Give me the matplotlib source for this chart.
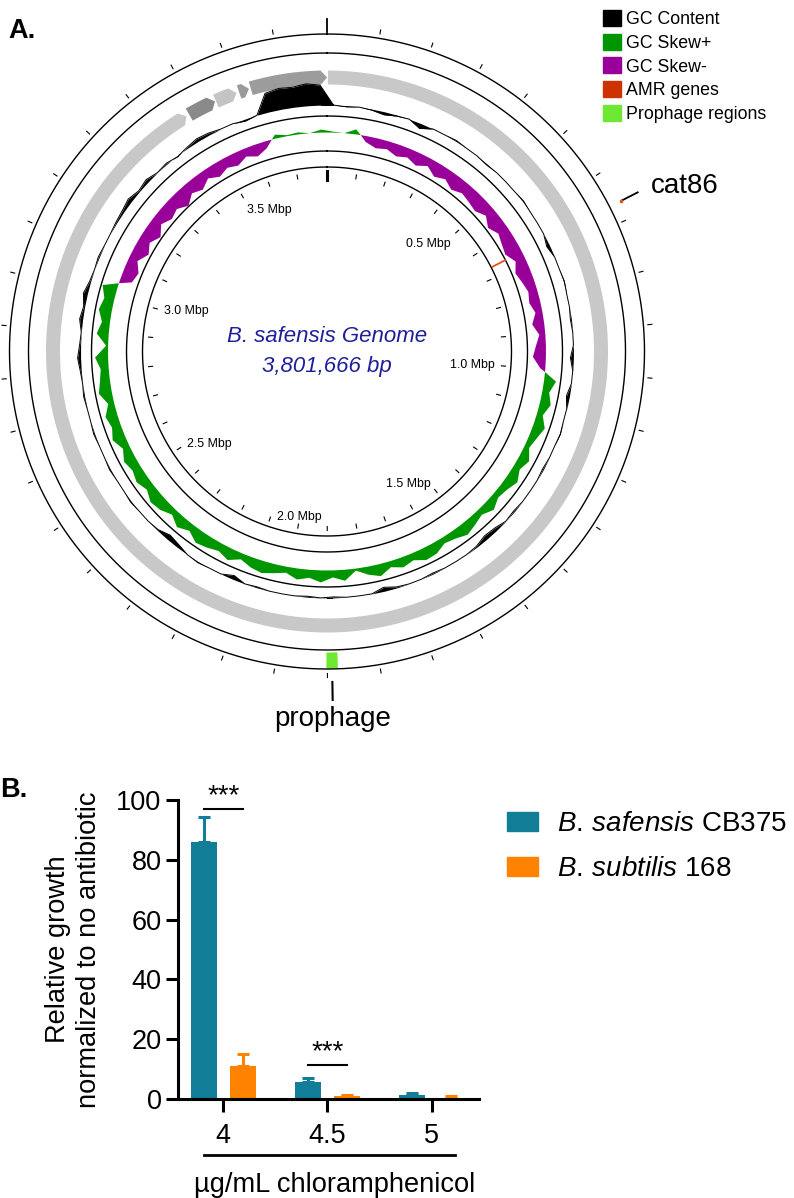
import numpy as np
import matplotlib.pyplot as plt
from matplotlib.patches import Patch

plt.rcParams['font.family'] = ['Liberation Sans', 'DejaVu Sans']
plt.rcParams['mathtext.fontset'] = 'custom'
plt.rcParams['mathtext.it'] = 'Liberation Sans:italic'
plt.rcParams['mathtext.rm'] = 'Liberation Sans'

#%% data -- panel A (genome map)
genome_bp = 3801666
genome_title = "B. safensis Genome"
genome_size_label = "3,801,666 bp"

# contigs / CDS blocks on the grey ring, Mbp
contig_start = [0.002, 3.483, 3.549, 3.604, 3.631]
contig_end = [3.476, 3.547, 3.598, 3.627, 3.8017]
contig_shade = ['#c8c8c8', '#8a8a8a', '#c4c4c4', '#9a9a9a', '#9c9c9c']

# GC content deviation, 120 equal windows round the genome (px, + outward)
gc_content = [
    0, -1, 0, -1, -3, -1, 0, -5, 0, 0, 1, 0, 0, -1, 0,
    0, 0, 1, 0, 0, 0, -3, 0, 0, 1, 0, 0, -1, 0, 0,
    -3, 0, 0, -3, 0, 0, 1, 0, 0, -1, 0, 0, 0, -1, 0,
    -3, -4, -1, 0, 0, 0, -1, 0, 0, -1, -4, 0, 0, 0, -1,
    0, -1, 0, 0, 0, -1, 0, -4, 0, 0, 1, 0, -3, -5, -1,
    0, 0, 1, 0, 0, 1, 0, 0, 1, 0, 0, 1, 0, 1, 3,
    1, 0, 3, 1, 4, 1, 0, 1, 0, 0, 1, 2, 4, 1, 3,
    0, 1, -1, 1, 3, 2, 0, 0, -2, 0, 19, 21, 20, 22, 20,
]

# GC skew, same 120 windows (+ green outward, - purple inward)
gc_skew = [
    1, 0, 5, -6, -10, -8, -12, -9, -13, -8, -14, -10, -15, -11, -13,
    -15, -10, -16, -11, -14, -16, -10, -15, -12, -9, -11, -7, -12, -6, -10,
    -13, -5, 12, 7, 11, 6, 12, 8, 5, 11, 7, 12, 8, 6, 11,
    6, 9, 12, 8, 6, 11, 12, 7, 10, 6, 12, 8, 2, 11, 7,
    12, 8, 11, 6, 9, 12, 10, 6, 12, 8, 11, 13, 7, 12, 6,
    11, 13, 8, 12, 9, 12, 7, 13, 9, 12, 6, 13, 10, 8, 13,
    2, 12, 8, 13, 10, 15, -12, -15, -9, -16, -11, -17, -10, -15, -12,
    -18, -11, -15, -9, -14, -10, -13, -8, -12, -7, 4, 1, 2, 0, 3,
]

amr_pos = [0.664]
amr_names = ['cat86']
prophage_start = [1.880]
prophage_end = [1.902]

map_tick_labels = [0.5, 1.0, 1.5, 2.0, 2.5, 3.0, 3.5]
legend_a_labels = ['GC Content', 'GC Skew+', 'GC Skew-', 'AMR genes', 'Prophage regions']

#%% data -- panel B (growth)
conc_labels = ['4', '4.5', '5']
safensis_mean = [86.0, 5.8, 1.2]
safensis_err = [8.2, 1.3, 0.8]
subtilis_mean = [11.2, 1.0, 0.5]
subtilis_err = [3.9, 0.3, 0.4]
sig_groups = [0, 1]
sig_heights = [97.0, 11.4]
sig_marks = ['***', '***']
strain_labels = ['$\\mathit{B.}\\,\\mathit{safensis}$ CB375',
                 '$\\mathit{B.}\\,\\mathit{subtilis}$ 168']

#%% colours
c_skew_pos = '#009600'
c_skew_neg = '#990099'
c_amr = '#cc3300'
c_phage = '#6ee833'
c_teal = '#117d97'
c_orange = '#ff8200'

W, H = 794, 1198
fig = plt.figure(figsize=(W / 100, H / 100), dpi=100)


def th(mbp):
    return 2 * np.pi * np.asarray(mbp, dtype=float) * 1e6 / genome_bp


#%% panel A
cx, cy, rmax = 327, 351.5, 350
ax = fig.add_axes([(cx - rmax) / W, (H - cy - rmax) / H, 2 * rmax / W, 2 * rmax / H],
                  projection='polar')
ax.set_theta_zero_location('N')
ax.set_theta_direction(-1)
ax.patch.set_alpha(0)

full = np.linspace(0, 2 * np.pi, 1441)
for r in [184.5, 200.5, 235.5, 298.5, 317.5]:
    ax.plot(full, np.full_like(full, r), color='k', lw=1.0)

# CDS / contig ring with arrow heads
r_in, r_out = 267, 281
head = np.deg2rad(1.3)
for s, e, c in zip(contig_start, contig_end, contig_shade):
    t0, t1 = th(s), th(e)
    body = np.linspace(t0, t1 - head, 300)
    tt = np.concatenate([body, [t1], body[::-1]])
    rr = np.concatenate([np.full_like(body, r_out), [(r_in + r_out) / 2],
                         np.full_like(body, r_in)])
    ax.fill(tt, rr, color=c, lw=0)

# GC content and skew
nwin = len(gc_content)
theta = (np.arange(nwin + 1) + 0.5) * 2 * np.pi / nwin
gc = np.array(gc_content + gc_content[:1], dtype=float)
sk = np.array(gc_skew + gc_skew[:1], dtype=float)
gc_base, sk_base = 246.5, 219.0
ax.fill_between(theta, gc_base, gc_base + gc, color='k', lw=0)
ax.plot(theta, gc_base + gc, color='k', lw=0.7)
ax.fill_between(theta, sk_base, sk_base + sk, where=sk >= 0, interpolate=True,
                color=c_skew_pos, lw=0)
ax.fill_between(theta, sk_base, sk_base + sk, where=sk <= 0, interpolate=True,
                color=c_skew_neg, lw=0)

# AMR genes
for p, name in zip(amr_pos, amr_names):
    t = th(p)
    ax.plot([t, t], [186, 200], color='#e8501a', lw=1.3)
    ax.plot([t, t], [331, 357], color='k', lw=1.3)
    ax.plot([t], [330], 'o', color='#e8501a', ms=1.6)
    ax.text(t, 364, name, fontsize=20, ha='left', va='center')

# prophage
for s, e in zip(prophage_start, prophage_end):
    t0, t1 = th(s), th(e)
    ax.bar((t0 + t1) / 2, 16, width=t1 - t0, bottom=301, color=c_phage, lw=0)
    tm = (t0 + t1) / 2
    ax.plot([tm, tm], [330.5, 348.5], color='k', lw=1.5)
    ax.text(tm, 355, 'prophage', fontsize=20, ha='center', va='top')

# ticks
for m in np.arange(0, 3.8, 0.1):
    t = th(m)
    if m < 0.05:
        ax.plot([t, t], [172, 181], color='k', lw=2.2)
        ax.plot([t, t], [320, 333], color='k', lw=1.3)
    else:
        ax.plot([t, t], [175, 179], color='k', lw=0.8)
        ax.plot([t, t], [322, 326], color='k', lw=0.8)

for m in map_tick_labels:
    t = th(m)
    s, c = np.sin(t), np.cos(t)
    ha = 'right' if s > 0.2 else ('left' if s < -0.2 else 'center')
    va = 'top' if c > 0.3 else 'center'
    ax.text(t, 168, '%.1f Mbp' % m, fontsize=8.9, ha=ha, va=va)

ax.text(0.5, 0.5 + 9.5 / (2 * rmax), genome_title, transform=ax.transAxes,
        ha='center', va='baseline', fontsize=16, style='italic', color='#1f1f9c')
ax.text(0.5, 0.5 - 20.5 / (2 * rmax), genome_size_label, transform=ax.transAxes,
        ha='center', va='baseline', fontsize=16, style='italic', color='#1f1f9c')

ax.set_ylim(0, rmax)
ax.set_xticks([])
ax.set_yticks([])
ax.grid(False)
ax.spines['polar'].set_visible(False)

leg_a_colors = ['k', c_skew_pos, c_skew_neg, c_amr, c_phage]
fig.legend([Patch(color=c) for c in leg_a_colors], legend_a_labels,
           loc='upper left', bbox_to_anchor=(603 / W, 1 - 10 / H), frameon=False,
           fontsize=12.8, handlelength=1.0, handleheight=1.0, handletextpad=0.3,
           labelspacing=0.32, borderpad=0, borderaxespad=0)

fig.text(8 / W, 1 - 38 / H, 'A.', fontsize=19.5, weight='bold', va='baseline')

#%% panel B
axb = fig.add_axes([177.7 / W, 1 - 1099 / H, (479 - 177.7) / W, 299 / H])
x = np.arange(len(conc_labels))
off, bw = 0.186, 0.25
axb.bar(x - off, safensis_mean, bw, color=c_teal, lw=0)
axb.bar(x + off, subtilis_mean, bw, color=c_orange, lw=0)
axb.errorbar(x - off, safensis_mean, yerr=[np.zeros(3), safensis_err], fmt='none',
             ecolor=c_teal, elinewidth=2.2, capsize=4.4, capthick=2.2)
axb.errorbar(x + off, subtilis_mean, yerr=[np.zeros(3), subtilis_err], fmt='none',
             ecolor=c_orange, elinewidth=2.2, capsize=4.4, capthick=2.2)

for g, h, mark in zip(sig_groups, sig_heights, sig_marks):
    axb.plot([g - off, g + off], [h, h], color='k', lw=1.5)
    axb.text(g, h + 1.8, mark, ha='center', va='baseline', fontsize=20)

axb.set_xlim(-0.4376, 2.454)
axb.set_ylim(0, 100)
axb.set_yticks(range(0, 101, 20))
axb.set_xticks(x)
axb.set_xticklabels(conc_labels)
for sp in ['top', 'right']:
    axb.spines[sp].set_visible(False)
for sp in ['left', 'bottom']:
    axb.spines[sp].set_linewidth(2.2)
axb.tick_params(axis='y', length=8.6, width=2.2, labelsize=19.5, pad=3)
axb.tick_params(axis='x', length=9.4, width=2.2, labelsize=19.5, pad=8)
axb.set_ylabel('Relative growth\nnormalized to no antibiotic', fontsize=19.6,
               linespacing=1.25, labelpad=10)

axb.plot([-0.185, 2.224], [-18.7, -18.7], color='k', lw=2, clip_on=False)
axb.text(1.07, -31.1, '\u00b5g/mL chloramphenicol', ha='center', va='baseline',
         fontsize=19.6)

axb.legend([Patch(color=c_teal), Patch(color=c_orange)], strain_labels,
           loc='upper left', bbox_to_anchor=(507 / W, 1 - 811 / H),
           bbox_transform=fig.transFigure, frameon=False, fontsize=20,
           handlelength=1.12, handleheight=0.68, handletextpad=0.68,
           labelspacing=0.7, borderpad=0, borderaxespad=0)

fig.text(0, 1 - 797 / H, 'B.', fontsize=19.5, weight='bold', va='baseline')

fig.savefig('out.png', dpi=100)
